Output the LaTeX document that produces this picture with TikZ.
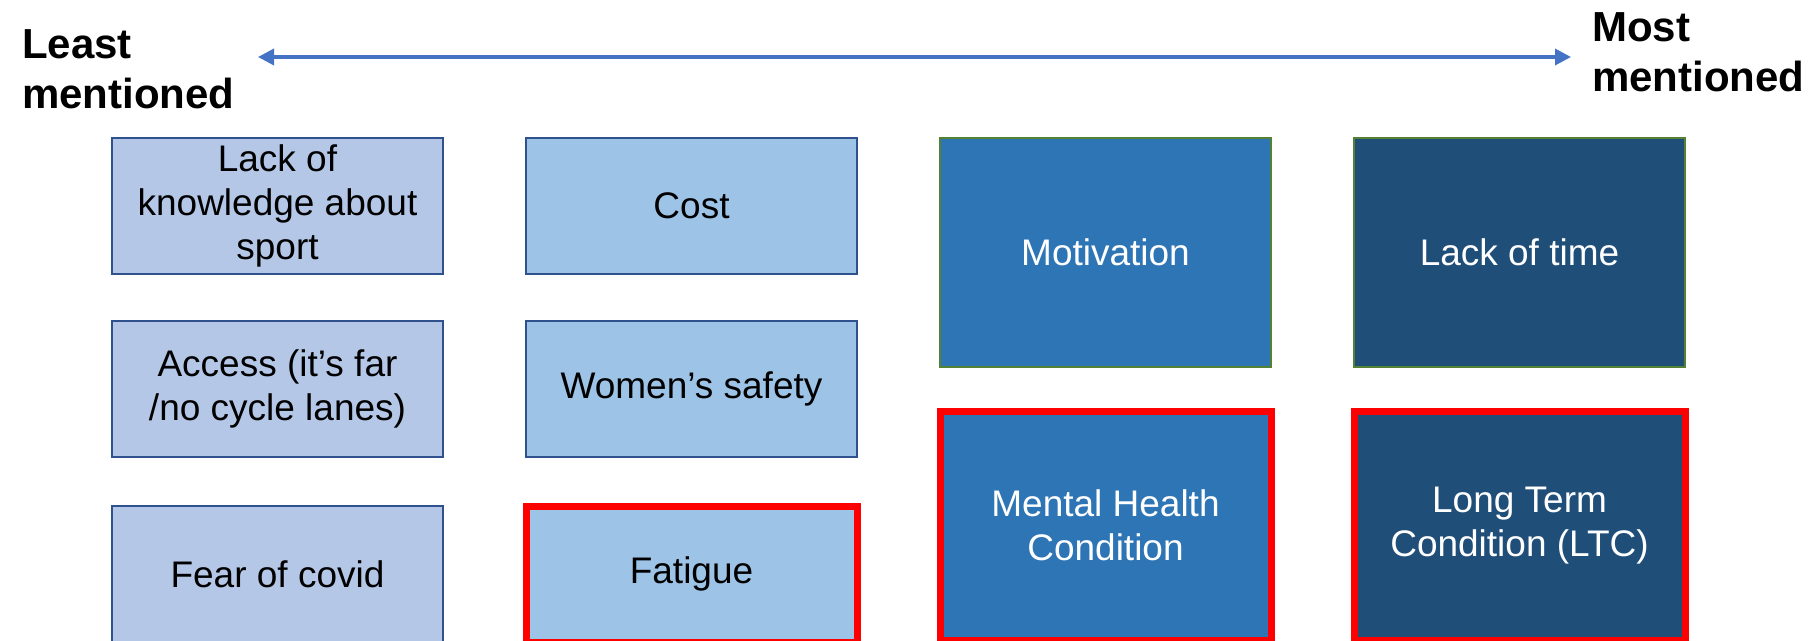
\documentclass[tikz,border=0pt]{standalone}
\usepackage{fontspec}
\setmainfont{Liberation Sans}
\usetikzlibrary{arrows.meta}

\definecolor{paleblue}{HTML}{B4C7E7}
\definecolor{skyblue}{HTML}{9DC3E6}
\definecolor{midblue}{HTML}{2E75B6}
\definecolor{navyblue}{HTML}{1F4E79}
\definecolor{edgeblue}{HTML}{2F528F}
\definecolor{edgegreen}{HTML}{548235}
\definecolor{arrowblue}{HTML}{4472C4}

\tikzset{
  barrier/.style={rectangle, minimum width=331pt, inner sep=0pt, align=center,
    font=\fontsize{37}{44}\selectfont},
  rare/.style={barrier, minimum height=136pt, draw=edgeblue, line width=2pt},
  common/.style={barrier, minimum height=229pt, draw=edgegreen, line width=2pt, text=white},
  flagged/.style={draw=red, line width=7pt},
  endlabel/.style={inner sep=0pt, align=left, font=\fontsize{42}{50}\selectfont\bfseries}
}

\begin{document}
\begin{tikzpicture}[x=1pt,y=-1pt,>={Triangle[length=16pt,width=16pt]}]
\useasboundingbox (0,0) rectangle (1810,640);

% scale along the top
\node[endlabel, anchor=base west] (least) at (22,108) {Least\\mentioned};
\node[endlabel, anchor=base west] (most) at (1592,91) {Most\\mentioned};
\coordinate (low) at (258,57);
\coordinate (high) at (1571,57);
\draw[arrowblue, line width=3.5pt, <->] (low) -- (high);

% least mentioned
\node[rare, fill=paleblue] (knowledge) at (277.5,206) {Lack of\\knowledge about\\sport};
\node[rare, fill=paleblue] (access) at (277.5,389) {Access (it’s far\\/no cycle lanes)};
\node[rare, fill=paleblue] (covid) at (277.5,574) {Fear of covid};

\node[rare, fill=skyblue] (cost) at (691.5,206) {Cost};
\node[rare, fill=skyblue] (safety) at (691.5,389) {Women’s safety};
\node[rare, fill=skyblue, flagged] (fatigue) at (691.5,574) {Fatigue};

% most mentioned
\node[common, fill=midblue] (motivation) at (1105.5,252.5) {Motivation};
\node[common, fill=midblue, flagged] (mental) at (1105.5,525.5) {Mental Health\\Condition};

\node[common, fill=navyblue] (time) at (1519.5,252.5) {Lack of time};
\node[common, fill=navyblue, flagged] (ltc) at (1519.5,525.5) {Long Term\\Condition (LTC)};
\end{tikzpicture}
\end{document}
